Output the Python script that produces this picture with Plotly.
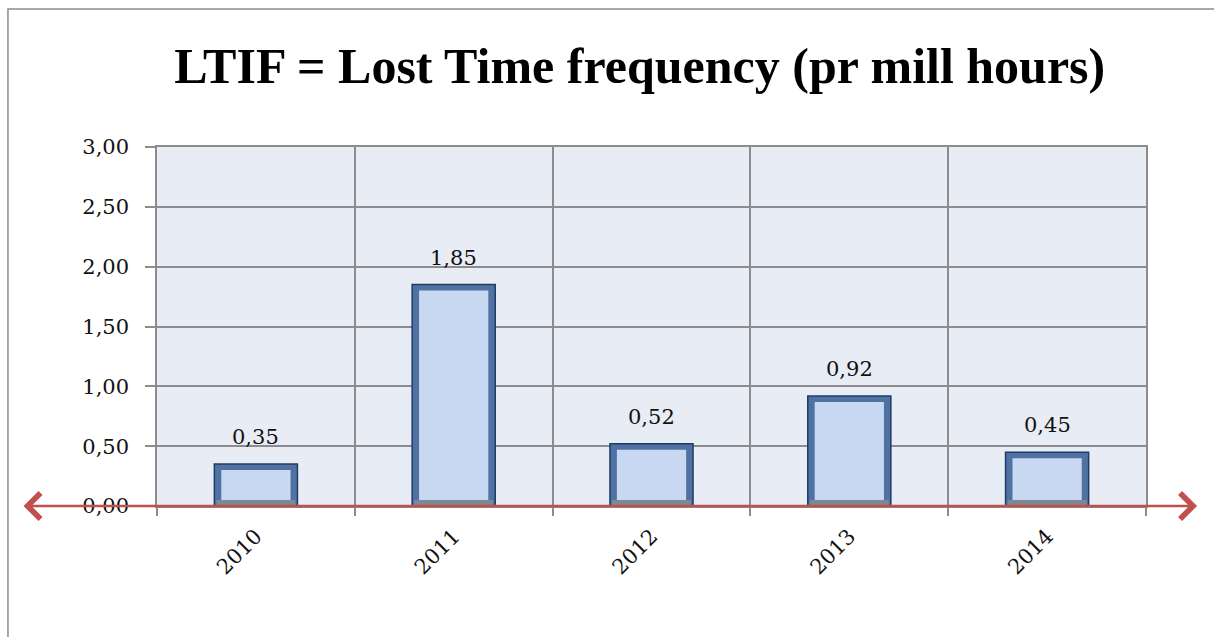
import plotly.graph_objects as go

years = ["2010", "2011", "2012", "2013", "2014"]
ltif = [0.35, 1.85, 0.52, 0.92, 0.45]
y_ticks = [0, 0.5, 1.0, 1.5, 2.0, 2.5, 3.0]
title_text = "LTIF = Lost Time frequency (pr mill hours)"

SERIF = "DejaVu Serif"
GRID = "#8c8c8c"

fig = go.Figure()

# outer (bevel edge) bar
fig.add_trace(go.Bar(
    x=years, y=ltif, width=0.42,
    marker=dict(color="#4f72a3", line=dict(color="#1f3c66", width=1.5)),
    hoverinfo="skip", showlegend=False,
))
# bottom bevel (greyish)
fig.add_trace(go.Bar(
    x=years, y=[0.05] * len(years), base=0.0, width=0.40,
    marker=dict(color="#7d8896", line=dict(width=0)),
    hoverinfo="skip", showlegend=False,
))
# inner highlight bar
inner_h = [v - 0.1 for v in ltif]
fig.add_trace(go.Bar(
    x=years, y=inner_h, base=0.05, width=0.35,
    marker=dict(color="#c8d8f1", line=dict(width=0)),
    hoverinfo="skip", showlegend=False,
))

# data labels
for i, v in enumerate(ltif):
    fig.add_annotation(x=i, y=v, xref="x", yref="y",
                       text=f"{v:.2f}".replace(".", ","),
                       showarrow=False, yshift=27, yanchor="middle",
                       font=dict(family=SERIF, size=21, color="#111111"))

# double-headed red axis arrow
fig.add_annotation(xref="paper", yref="y", x=1.0516, y=0,
                   axref="pixel", ayref="pixel", ax=-1175, ay=0,
                   showarrow=True, arrowhead=4, startarrowhead=4,
                   arrowside="end+start", arrowsize=2.0, startarrowsize=2.0,
                   arrowwidth=2.5, arrowcolor="#c0504d", text="")

# chart frame
fig.add_shape(type="rect", xref="paper", yref="paper",
              x0=-0.1507, x1=1.2, y0=-0.6, y1=1.3844,
              line=dict(color="#8c8c8c", width=1.5), fillcolor="rgba(0,0,0,0)",
              layer="below")

fig.update_layout(
    width=1214, height=637,
    margin=dict(l=157, r=68, t=147, b=131),
    paper_bgcolor="white",
    plot_bgcolor="#e8ecf4",
    barmode="overlay",
    separators=", ",
    title=dict(text=title_text, x=0.527, xanchor="center",
               y=1 - 65 / 637, yanchor="middle",
               font=dict(family="Liberation Serif", size=50, color="black",
                         weight="bold")),
    xaxis=dict(type="category", range=[-0.5, 4.5], tickson="boundaries",
               showgrid=True,
               gridcolor=GRID, gridwidth=1.5, ticks="outside", ticklen=8,
               tickcolor=GRID, tickwidth=1.5, tickangle=-45,
               ticklabelstandoff=8,
               tickfont=dict(family=SERIF, size=21, color="#111111"),
               showline=True, linecolor=GRID, linewidth=1.5, mirror=True,
               zeroline=False),
    yaxis=dict(range=[0, 3], tickvals=y_ticks, tickformat=".2f",
               showgrid=True, gridcolor=GRID, gridwidth=1.5,
               ticks="outside", ticklen=10, tickcolor=GRID, tickwidth=1.5,
               ticklabelstandoff=12,
               tickfont=dict(family=SERIF, size=21, color="#111111"),
               showline=True, linecolor=GRID, linewidth=1.5, mirror=True,
               zeroline=False),
)

fig.write_html("out.html")
